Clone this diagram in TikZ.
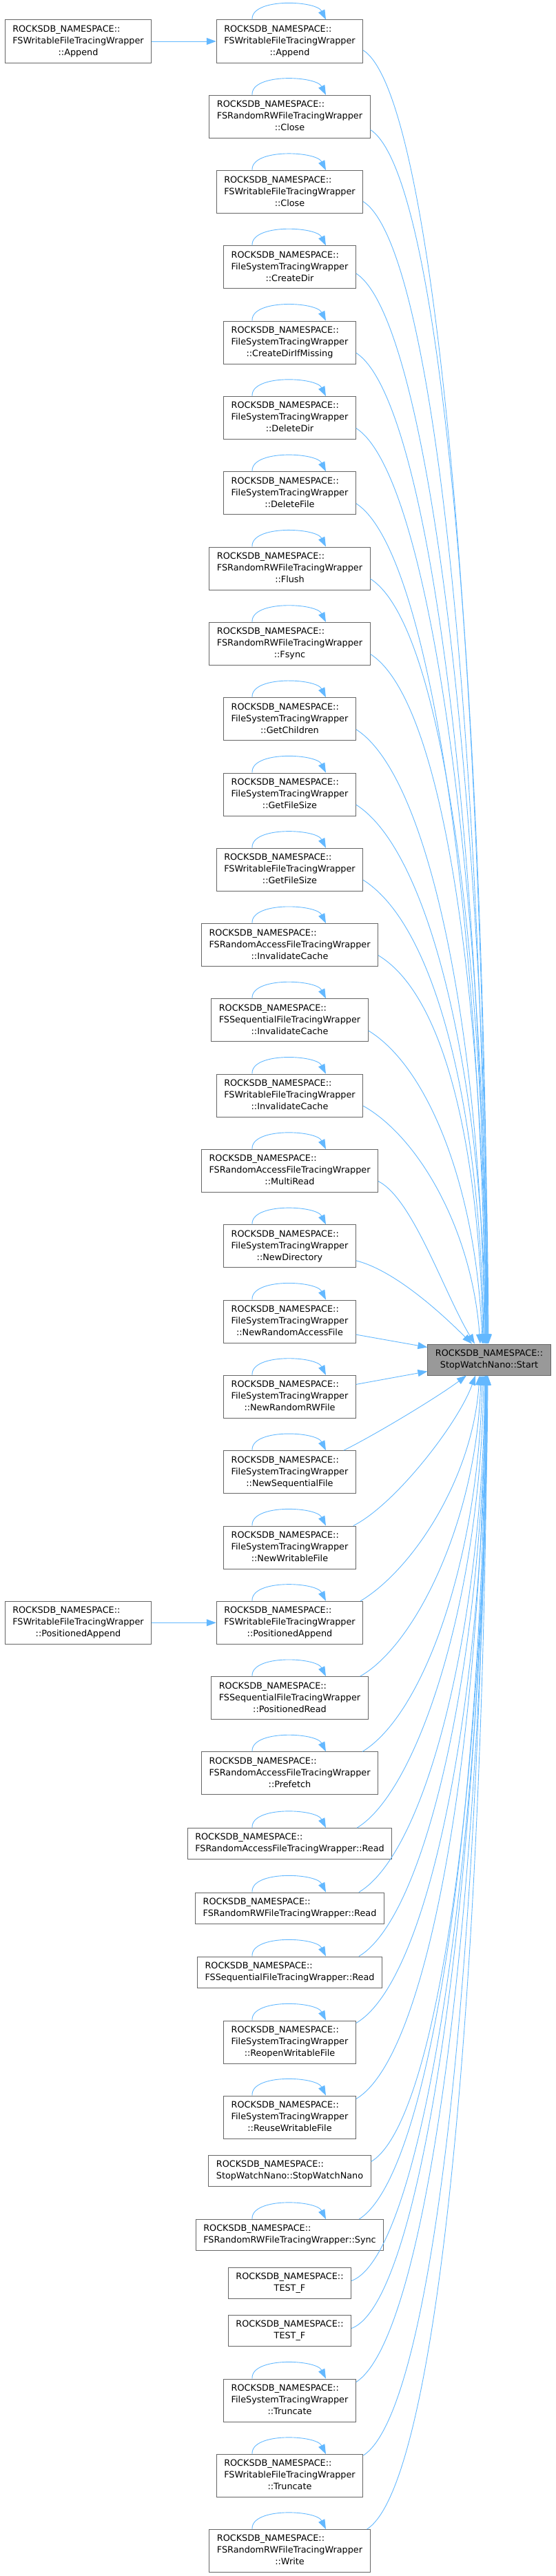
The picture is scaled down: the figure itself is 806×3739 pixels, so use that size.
\documentclass[tikz,border=0pt]{standalone}
\usepackage{fontspec}
\setmainfont{DejaVu Sans}
\usetikzlibrary{arrows.meta}
\definecolor{edgeblue}{HTML}{63B8FF}
\definecolor{boxline}{HTML}{666666}
\definecolor{boxfill}{HTML}{999999}
\newcommand{\fnthree}[2]{\begin{tabular}{@{}l@{}}ROCKSDB\_NAMESPACE::\\#1\\\multicolumn{1}{@{}c@{}}{#2}\end{tabular}}
\newcommand{\fntwo}[1]{\begin{tabular}{@{}l@{}}ROCKSDB\_NAMESPACE::\\\multicolumn{1}{@{}c@{}}{#1}\end{tabular}}
\begin{document}
\begin{tikzpicture}[x=1pt,y=-1pt,
  boxnode/.style={draw=boxline,line width=1pt,fill=white,inner xsep=11pt,inner ysep=5.5pt,font=\fontsize{12.8}{17}\selectfont},
  hlnode/.style={boxnode,fill=boxfill},
  callarrow/.style={draw=edgeblue,line width=0.9pt,-{Triangle[length=14pt,width=10pt]}}]
\useasboundingbox (0,0) rectangle (806,3739);
\node[boxnode] (wfAppendCaller) at (113.5,60) {\fnthree{FSWritableFileTracingWrapper}{::Append}};
\node[boxnode] (wfPosAppendCaller) at (113.5,2355.3) {\fnthree{FSWritableFileTracingWrapper}{::PositionedAppend}};
\node[boxnode] (wfAppend) at (420.5,60) {\fnthree{FSWritableFileTracingWrapper}{::Append}};
\node[boxnode] (rwClose) at (420.5,169.3) {\fnthree{FSRandomRWFileTracingWrapper}{::Close}};
\node[boxnode] (wfClose) at (420.5,278.6) {\fnthree{FSWritableFileTracingWrapper}{::Close}};
\node[boxnode] (fsCreateDir) at (420.5,387.9) {\fnthree{FileSystemTracingWrapper}{::CreateDir}};
\node[boxnode] (fsCreateDirIfMissing) at (420.5,497.2) {\fnthree{FileSystemTracingWrapper}{::CreateDirIfMissing}};
\node[boxnode] (fsDeleteDir) at (420.5,606.5) {\fnthree{FileSystemTracingWrapper}{::DeleteDir}};
\node[boxnode] (fsDeleteFile) at (420.5,715.8) {\fnthree{FileSystemTracingWrapper}{::DeleteFile}};
\node[boxnode] (rwFlush) at (420.5,825.1) {\fnthree{FSRandomRWFileTracingWrapper}{::Flush}};
\node[boxnode] (rwFsync) at (420.5,934.4) {\fnthree{FSRandomRWFileTracingWrapper}{::Fsync}};
\node[boxnode] (fsGetChildren) at (420.5,1043.7) {\fnthree{FileSystemTracingWrapper}{::GetChildren}};
\node[boxnode] (fsGetFileSize) at (420.5,1153) {\fnthree{FileSystemTracingWrapper}{::GetFileSize}};
\node[boxnode] (wfGetFileSize) at (420.5,1262.3) {\fnthree{FSWritableFileTracingWrapper}{::GetFileSize}};
\node[boxnode] (raInvalidateCache) at (420.5,1371.6) {\fnthree{FSRandomAccessFileTracingWrapper}{::InvalidateCache}};
\node[boxnode] (sqInvalidateCache) at (420.5,1480.9) {\fnthree{FSSequentialFileTracingWrapper}{::InvalidateCache}};
\node[boxnode] (wfInvalidateCache) at (420.5,1590.2) {\fnthree{FSWritableFileTracingWrapper}{::InvalidateCache}};
\node[boxnode] (raMultiRead) at (420.5,1699.5) {\fnthree{FSRandomAccessFileTracingWrapper}{::MultiRead}};
\node[boxnode] (fsNewDirectory) at (420.5,1808.8) {\fnthree{FileSystemTracingWrapper}{::NewDirectory}};
\node[boxnode] (fsNewRandomAccessFile) at (420.5,1918.1) {\fnthree{FileSystemTracingWrapper}{::NewRandomAccessFile}};
\node[boxnode] (fsNewRandomRWFile) at (420.5,2027.4) {\fnthree{FileSystemTracingWrapper}{::NewRandomRWFile}};
\node[boxnode] (fsNewSequentialFile) at (420.5,2136.7) {\fnthree{FileSystemTracingWrapper}{::NewSequentialFile}};
\node[boxnode] (fsNewWritableFile) at (420.5,2246) {\fnthree{FileSystemTracingWrapper}{::NewWritableFile}};
\node[boxnode] (wfPositionedAppend) at (420.5,2355.3) {\fnthree{FSWritableFileTracingWrapper}{::PositionedAppend}};
\node[boxnode] (sqPositionedRead) at (420.5,2464.6) {\fnthree{FSSequentialFileTracingWrapper}{::PositionedRead}};
\node[boxnode] (raPrefetch) at (420.5,2573.9) {\fnthree{FSRandomAccessFileTracingWrapper}{::Prefetch}};
\node[boxnode] (raRead) at (420.5,2676) {\fntwo{FSRandomAccessFileTracingWrapper::Read}};
\node[boxnode] (rwRead) at (420.5,2769.5) {\fntwo{FSRandomRWFileTracingWrapper::Read}};
\node[boxnode] (sqRead) at (420.5,2862.5) {\fntwo{FSSequentialFileTracingWrapper::Read}};
\node[boxnode] (fsReopenWritableFile) at (420.5,2964) {\fnthree{FileSystemTracingWrapper}{::ReopenWritableFile}};
\node[boxnode] (fsReuseWritableFile) at (420.5,3073) {\fnthree{FileSystemTracingWrapper}{::ReuseWritableFile}};
\node[boxnode] (swCtor) at (420.5,3150.5) {\fntwo{StopWatchNano::StopWatchNano}};
\node[boxnode] (rwSync) at (420.5,3244) {\fntwo{FSRandomRWFileTracingWrapper::Sync}};
\node[boxnode] (testA) at (420.5,3313.5) {\fntwo{TEST\_F}};
\node[boxnode] (testB) at (420.5,3382.5) {\fntwo{TEST\_F}};
\node[boxnode] (fsTruncate) at (420.5,3484) {\fnthree{FileSystemTracingWrapper}{::Truncate}};
\node[boxnode] (wfTruncate) at (420.5,3593.5) {\fnthree{FSWritableFileTracingWrapper}{::Truncate}};
\node[boxnode] (rwWrite) at (420.5,3702.5) {\fnthree{FSRandomRWFileTracingWrapper}{::Write}};
\node[hlnode] (swStart) at (710,1973.5) {\fntwo{StopWatchNano::Start}};
\foreach \n in {wfAppend,rwClose,wfClose,fsCreateDir,fsCreateDirIfMissing,fsDeleteDir,fsDeleteFile,rwFlush,rwFsync,fsGetChildren,fsGetFileSize,wfGetFileSize,raInvalidateCache,sqInvalidateCache,wfInvalidateCache,raMultiRead,fsNewDirectory,fsNewRandomAccessFile,fsNewRandomRWFile,fsNewSequentialFile,fsNewWritableFile,wfPositionedAppend,sqPositionedRead,raPrefetch,raRead,rwRead,sqRead,fsReopenWritableFile,fsReuseWritableFile,rwSync,fsTruncate,wfTruncate,rwWrite}
  \draw[callarrow] ([xshift=-54.5pt]\n.north) .. controls +(-2,-32) and +(-14,-28) .. ([xshift=52.5pt]\n.north);
\draw[callarrow] (wfAppendCaller) -- (wfAppend);
\draw[callarrow] (wfPosAppendCaller) -- (wfPositionedAppend);
\draw[callarrow] ([yshift=-13pt]wfAppend.east) .. controls +(110,70) and +(-3,-900) .. ([xshift=-3pt]swStart.north);
\draw[callarrow] ([yshift=-19pt]rwClose.east) .. controls +(110,70) and +(-3,-848) .. ([xshift=-2pt]swStart.north);
\draw[callarrow] ([yshift=-14pt]wfClose.east) .. controls +(110,70) and +(-3,-795) .. ([xshift=-4pt]swStart.north);
\draw[callarrow] ([yshift=-9pt]fsCreateDir.east) .. controls +(110,70) and +(-3,-743) .. ([xshift=-1pt]swStart.north);
\draw[callarrow] ([yshift=-15pt]fsCreateDirIfMissing.east) .. controls +(110,70) and +(-3,-690) .. ([xshift=-5pt]swStart.north);
\draw[callarrow] ([yshift=-15pt]fsDeleteDir.east) .. controls +(110,70) and +(-3,-638) .. ([xshift=-2pt]swStart.north);
\draw[callarrow] ([yshift=-15pt]fsDeleteFile.east) .. controls +(110,70) and +(-3,-585) .. ([xshift=-6pt]swStart.north);
\draw[callarrow] ([yshift=-15pt]rwFlush.east) .. controls +(110,70) and +(-3,-533) .. ([xshift=-3pt]swStart.north);
\draw[callarrow] ([yshift=-15pt]rwFsync.east) .. controls +(110,70) and +(-3,-480) .. ([xshift=-4pt]swStart.north);
\draw[callarrow] ([yshift=-15pt]fsGetChildren.east) .. controls +(110,70) and +(-3,-428) .. ([xshift=-7pt]swStart.north);
\draw[callarrow] ([yshift=-15pt]fsGetFileSize.east) .. controls +(110,70) and +(-4,-376) .. ([xshift=-5pt]swStart.north);
\draw[callarrow] ([yshift=-15pt]wfGetFileSize.east) .. controls +(110,70) and +(-4,-323) .. ([xshift=-8pt]swStart.north);
\draw[callarrow] ([yshift=-15pt]raInvalidateCache.east) .. controls +(100,60) and +(-5,-271) .. ([xshift=-9pt]swStart.north);
\draw[callarrow] ([yshift=-15pt]sqInvalidateCache.east) .. controls +(90,55) and +(-8,-218) .. ([xshift=-10pt]swStart.north);
\draw[callarrow] ([yshift=-15pt]wfInvalidateCache.east) .. controls +(80,45) and +(-12,-166) .. ([xshift=-13pt]swStart.north);
\draw[callarrow] ([yshift=-15pt]raMultiRead.east) .. controls +(50,25) and +(-45,-75) .. ([xshift=-21pt]swStart.north);
\draw[callarrow] ([yshift=-21pt]fsNewDirectory.east) .. controls +(60,15) and +(-35,-35) .. ([xshift=-25pt]swStart.north);
\draw[callarrow] ([yshift=-19pt]fsNewRandomAccessFile.east) -- ([yshift=18pt]swStart.west);
\draw[callarrow] ([yshift=18pt]fsNewRandomRWFile.east) -- ([yshift=-17pt]swStart.west);
\draw[callarrow] ([xshift=-18pt]fsNewSequentialFile.north east) .. controls +(50,-25) and +(-40,30) .. ([xshift=-33pt]swStart.south);
\draw[callarrow] ([xshift=-4pt]fsNewWritableFile.north east) .. controls +(60,-30) and +(-25,70) .. ([xshift=-20pt]swStart.south);
\draw[callarrow] ([xshift=-4pt]wfPositionedAppend.north east) .. controls +(75,-45) and +(-10,150) .. ([xshift=-14pt]swStart.south);
\draw[callarrow] ([xshift=-12pt]sqPositionedRead.north east) .. controls +(80,-45) and +(-6,210) .. ([xshift=-12pt]swStart.south);
\draw[callarrow] ([xshift=-23pt]raPrefetch.north east) .. controls +(90,-55) and +(-5,263) .. ([xshift=-10pt]swStart.south);
\draw[callarrow] ([xshift=-51pt]raRead.north east) .. controls +(90,-55) and +(-4,316) .. ([xshift=-8pt]swStart.south);
\draw[callarrow] ([xshift=-37pt]rwRead.north east) .. controls +(100,-60) and +(-4,360) .. ([xshift=-6pt]swStart.south);
\draw[callarrow] ([xshift=-34pt]sqRead.north east) .. controls +(100,-60) and +(-4,405) .. ([xshift=-5pt]swStart.south);
\draw[callarrow] ([yshift=-4pt]fsReopenWritableFile.north east) .. controls +(110,-65) and +(-3,452) .. ([xshift=-4pt]swStart.south);
\draw[callarrow] ([yshift=-5pt]fsReuseWritableFile.north east) .. controls +(110,-65) and +(-3,504) .. ([xshift=-6pt]swStart.south);
\draw[callarrow] ([yshift=-10pt]swCtor.north east) .. controls +(100,-60) and +(-3,548) .. ([xshift=-3pt]swStart.south);
\draw[callarrow] ([xshift=-36pt]rwSync.north east) .. controls +(110,-70) and +(-3,588) .. ([xshift=-5pt]swStart.south);
\draw[callarrow] ([yshift=3pt]testA.east) .. controls +(110,-40) and +(-3,631) .. ([xshift=-2pt]swStart.south);
\draw[callarrow] ([yshift=3pt]testB.east) .. controls +(110,-40) and +(-3,664) .. ([xshift=-4pt]swStart.south);
\draw[callarrow] ([yshift=-5pt]fsTruncate.north east) .. controls +(110,-70) and +(-3,702) .. ([xshift=-3pt]swStart.south);
\draw[callarrow] ([yshift=-2pt]wfTruncate.north east) .. controls +(110,-70) and +(-3,752) .. ([xshift=-5pt]swStart.south);
\draw[callarrow] ([xshift=-5pt]rwWrite.north east) .. controls +(110,-70) and +(-3,804) .. ([xshift=-3pt]swStart.south);
\end{tikzpicture}
\end{document}
